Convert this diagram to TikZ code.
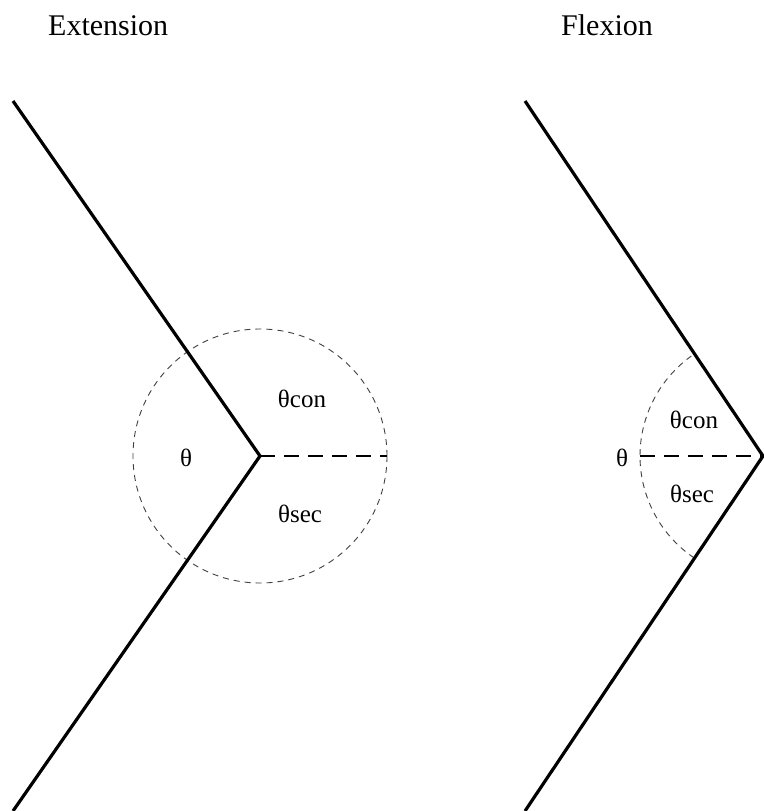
\documentclass[tikz,border=0pt]{standalone}
\usepackage{fontspec}
\setmainfont{Liberation Serif}
\begin{document}
\begin{tikzpicture}[x=1pt,y=-1pt,
  limb/.style={line width=3.2pt,line join=miter},
  guide/.style={line width=0.9pt,draw=black!75,dash pattern=on 6pt off 5pt},
  refline/.style={line width=2.2pt,dash pattern=on 15pt off 9pt},
  title/.style={font=\fontsize{30}{34}\selectfont,anchor=base west,inner sep=0pt},
  lab/.style={font=\fontsize{25}{28}\selectfont,anchor=base,inner sep=0pt}]
\useasboundingbox (0,0) rectangle (763,811);
% Extension
\node[title] (t1) at (48,35) {Extension};
\coordinate (v1) at (260,456);
\coordinate (a1) at (13,101);
\coordinate (b1) at (13,811);
\coordinate (h1) at (387,456);
\draw[guide] (v1) circle[radius=127];
\draw[refline] (v1) -- (h1);
\draw[limb] (a1) -- (v1) -- (b1);
\node[lab] (c1) at (302,407) {θcon};
\node[lab] (s1) at (300,522) {θsec};
\node[lab] (q1) at (186,466) {θ};
% Flexion
\node[title] (t2) at (561,35) {Flexion};
\coordinate (v2) at (763,456);
\coordinate (a2) at (525,101);
\coordinate (b2) at (525,811);
\coordinate (h2) at (640,456);
\draw[guide] (v2) ++(124:123) arc[start angle=124,end angle=236,radius=123];
\draw[refline] (h2) -- (v2);
\draw[limb] (a2) -- (v2) -- (b2);
\node[lab] (c2) at (694,428) {θcon};
\node[lab] (s2) at (692,502) {θsec};
\node[lab] (q2) at (622,466) {θ};
\end{tikzpicture}
\end{document}
